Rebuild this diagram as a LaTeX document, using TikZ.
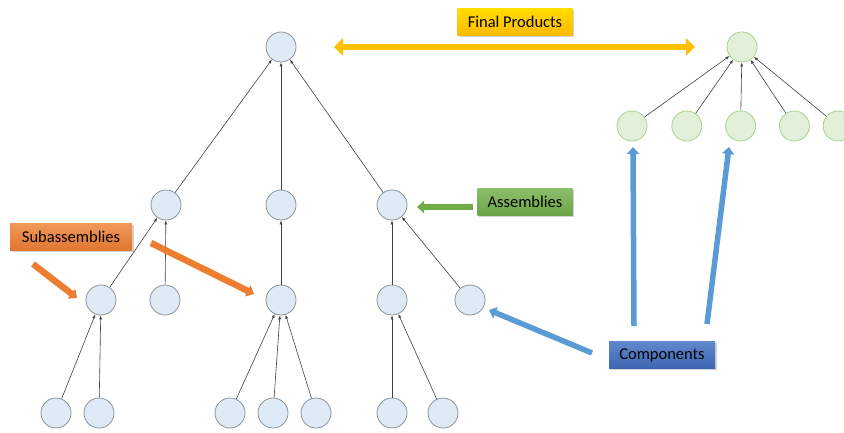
\documentclass[tikz,border=0pt]{standalone}
\usepackage{fontspec}
\setmainfont{Carlito}
\usepackage{xcolor}
\usetikzlibrary{positioning,calc,arrows.meta,shadows}

\definecolor{partfill}{HTML}{DEEBF7}
\definecolor{partdraw}{HTML}{8C9296}
\definecolor{prodfill}{HTML}{E2F0D9}
\definecolor{proddraw}{HTML}{A9D18E}
\definecolor{goldarrow}{HTML}{FFC000}
\definecolor{greenarrow}{HTML}{70AD47}
\definecolor{orangearrow}{HTML}{ED7D31}
\definecolor{bluearrow}{HTML}{5B9BD5}
\definecolor{bluebox}{HTML}{4472C4}

\begin{document}
\begin{tikzpicture}[x=1pt,y=-1pt]
        % Kieu cho cac nut cay va nhan
        \tikzstyle{part} = [circle, draw=partdraw, fill=partfill, line width=0.8pt, minimum size=30pt, inner sep=0pt]
        \tikzstyle{prod} = [circle, draw=proddraw, fill=prodfill, line width=0.8pt, minimum size=30pt, inner sep=0pt]
        \tikzstyle{link} = [draw=black!75, line width=0.6pt, -{Latex[length=4pt, width=3pt]}]
        \tikzstyle{tag} = [draw=none, minimum height=27pt, inner sep=0pt, font=\fontsize{16.5}{19}\selectfont, drop shadow={opacity=0.35, shadow xshift=1.5pt, shadow yshift=-1.5pt}]
        \tikzstyle{fat} = [line width=5.5pt, -{Triangle[length=7pt, width=12pt]}]

        \useasboundingbox (0,0) rectangle (844,432);

        % Cay ben trai
        \node[part] (root) at (281,47) {};
        \node[part] (a1) at (166,205) {};
        \node[part] (a2) at (281,205) {};
        \node[part] (a3) at (392,205) {};
        \node[part] (s1) at (101,300) {};
        \node[part] (s2) at (165,300) {};
        \node[part] (s3) at (281,300) {};
        \node[part] (s4) at (392,300) {};
        \node[part] (s5) at (470,300) {};
        \node[part] (c1) at (56,413) {};
        \node[part] (c2) at (99,413) {};
        \node[part] (c3) at (230,413) {};
        \node[part] (c4) at (273,413) {};
        \node[part] (c5) at (316,413) {};
        \node[part] (c6) at (392,413) {};
        \node[part] (c7) at (443,413) {};

        \foreach \a in {a1,a2,a3} \draw[link] (\a) -- (root);
        \foreach \a in {s1,s2} \draw[link] (\a) -- (a1);
        \draw[link] (s3) -- (a2);
        \foreach \a in {s4,s5} \draw[link] (\a) -- (a3);
        \foreach \a in {c1,c2} \draw[link] (\a) -- (s1);
        \foreach \a in {c3,c4,c5} \draw[link] (\a) -- (s3);
        \foreach \a in {c6,c7} \draw[link] (\a) -- (s4);

        % Cay ben phai (xanh la)
        \node[prod] (fin) at (742,47) {};
        \node[prod] (g1) at (632,126) {};
        \node[prod, right=24pt of g1] (g2) {};
        \node[prod, right=23pt of g2] (g3) {};
        \node[prod, right=23pt of g3] (g4) {};
        \node[prod, right=13pt of g4] (g5) {};
        \foreach \g in {g1,g2,g3,g4,g5} \draw[link] (\g) -- (fin);

        % Cac nhan
        \node[tag, minimum width=115pt, top color=goldarrow!55!yellow, bottom color=goldarrow!90!orange] (finlbl) at (515,22) {Final Products};
        \node[tag, minimum width=95pt, top color=greenarrow!80, bottom color=greenarrow!95!black] (asmlbl) at (525,202) {Assemblies};
        \node[tag, minimum width=122pt, top color=orangearrow!80, bottom color=orangearrow!95!black] (sublbl) at (71,237) {Subassemblies};
        \node[tag, minimum width=106pt, top color=bluebox!85, bottom color=bluebox!90!black] (cmplbl) at (662,355) {Components};

        % Mui ten lon
        \coordinate (yl) at (334,47);
        \coordinate (yr) at (695,47);
        \draw[goldarrow, line width=6.5pt, {Triangle[length=9pt, width=17pt]}-{Triangle[length=9pt, width=17pt]}] (yl) -- (yr);

        \coordinate (gs) at (473,207);
        \coordinate (ge) at (417,207);
        \draw[greenarrow, fat] (gs) -- (ge);

        \coordinate (o1s) at (33,264);
        \coordinate (o1e) at (77,298);
        \coordinate (o2s) at (151,243);
        \coordinate (o2e) at (254,294);
        \draw[orangearrow, fat, line width=6.5pt] (o1s) -- (o1e);
        \draw[orangearrow, fat, line width=6.5pt] (o2s) -- (o2e);

        \coordinate (b1s) at (592,353);
        \coordinate (b1e) at (489,310);
        \coordinate (b2s) at (634,326);
        \coordinate (b2e) at (633,147);
        \coordinate (b3s) at (707,324);
        \coordinate (b3e) at (729,147);
        \draw[bluearrow, fat] (b1s) -- (b1e);
        \draw[bluearrow, fat] (b2s) -- (b2e);
        \draw[bluearrow, fat] (b3s) -- (b3e);

    \end{tikzpicture}
\end{document}
